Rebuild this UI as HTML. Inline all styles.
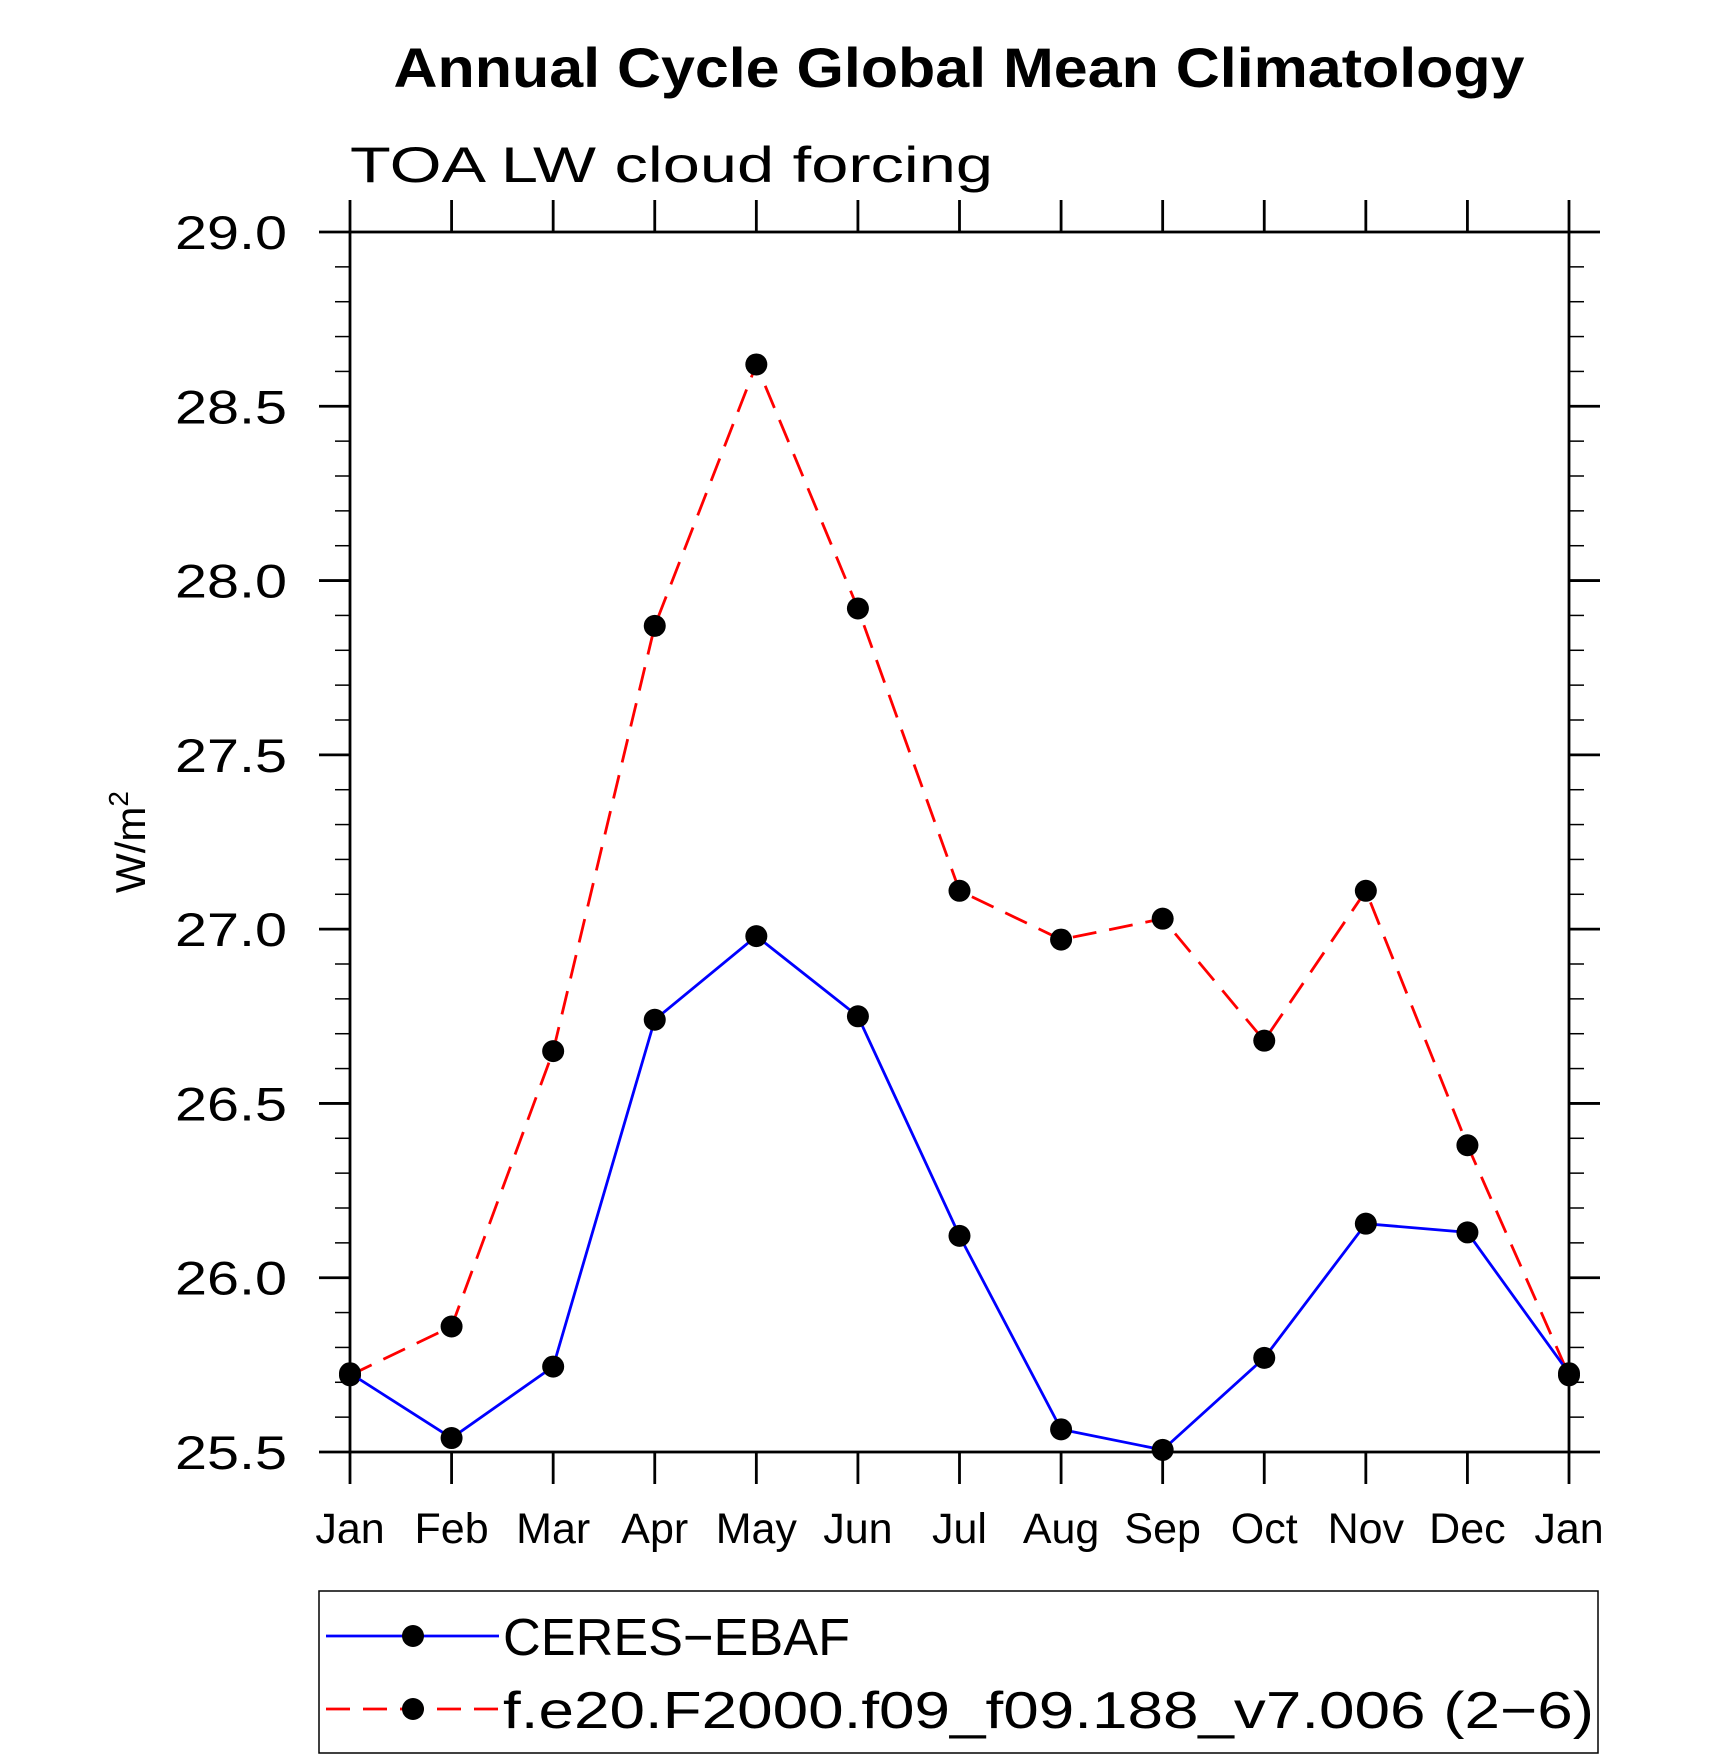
<!DOCTYPE html>
<html><head><meta charset="utf-8"><style>
html,body{margin:0;padding:0;background:#fff;}
svg{display:block;font-family:"Liberation Sans",sans-serif;}
</style></head><body>
<svg id="chart" width="1710" height="1762" viewBox="0 0 1710 1762">
<text x="959" y="87" text-anchor="middle" font-size="56" font-weight="bold" textLength="1131" lengthAdjust="spacingAndGlyphs">Annual Cycle Global Mean Climatology</text>
<text x="350" y="182" font-size="50" textLength="643" lengthAdjust="spacingAndGlyphs">TOA LW cloud forcing</text>
<text transform="translate(145,842) rotate(-90)" text-anchor="middle" font-size="42">W/m<tspan dy="-17" font-size="28">2</tspan></text>
<g id="axes"></g>
<g id="series"></g>
<g>
<rect x="319" y="1591" width="1279" height="162" fill="none" stroke="#000" stroke-width="1.5"/>
<g>
<line x1="326" y1="1636" x2="499" y2="1636" stroke="#0000ff" stroke-width="2.8"/>
<circle cx="413" cy="1636" r="11" fill="#000"/>
<text x="503" y="1655" font-size="52" textLength="347" lengthAdjust="spacingAndGlyphs">CERES−EBAF</text>
</g>
<g>
<line x1="326" y1="1709" x2="499" y2="1709" stroke="#ff0000" stroke-width="2.8" stroke-dasharray="24,13"/>
<circle cx="413" cy="1709" r="11" fill="#000"/>
<text x="503" y="1728" font-size="52" textLength="1091" lengthAdjust="spacingAndGlyphs">f.e20.F2000.f09_f09.188_v7.006 (2−6)</text>
</g>
</g>
</svg>
<script>
const months = ["Jan","Feb","Mar","Apr","May","Jun","Jul","Aug","Sep","Oct","Nov","Dec","Jan"];
const ceres = [25.726,25.54,25.745,26.74,26.98,26.75,26.12,25.565,25.506,25.77,26.155,26.13,25.726];
const model = [25.72,25.86,26.65,27.87,28.62,27.92,27.11,26.97,27.03,26.68,27.11,26.38,25.72];
const yTicks = ["25.5","26.0","26.5","27.0","27.5","28.0","28.5","29.0"];

const NS="http://www.w3.org/2000/svg";
const L=350,R=1569,T=232,B=1452,YMIN=25.5,YMAX=29.0;
function xs(i){return L+(R-L)*i/(months.length-1);}
function ys(v){return B-(v-YMIN)/(YMAX-YMIN)*(B-T);}
function mk(tag,attrs,parent){const e=document.createElementNS(NS,tag);for(const k in attrs)e.setAttribute(k,attrs[k]);parent.appendChild(e);return e;}
const axes=document.getElementById('axes');
const frame=mk('rect',{x:L,y:T,width:R-L,height:B-T,fill:'none',stroke:'#000','stroke-width':2.8},axes);


for(let v=YMIN*10; v<=YMAX*10+0.01; v+=1){
  const val=v/10, y=ys(val), major=(Math.round(v)%5===0);
  const len=major?31:15;
  mk('line',{x1:L-len,y1:y,x2:L,y2:y,stroke:'#000','stroke-width':major?2.8:1.5},axes);
  mk('line',{x1:R,y1:y,x2:R+len,y2:y,stroke:'#000','stroke-width':major?2.8:1.5},axes);
}
yTicks.forEach(t=>{
  const e=mk('text',{x:287,y:ys(parseFloat(t))+17,'text-anchor':'end','font-size':47,textLength:112,lengthAdjust:'spacingAndGlyphs'},axes);
  e.textContent=t;
  
  
});
months.forEach((m,i)=>{
  const x=xs(i);
  mk('line',{x1:x,y1:B,x2:x,y2:B+32,stroke:'#000','stroke-width':2.8},axes);
  mk('line',{x1:x,y1:T-32,x2:x,y2:T,stroke:'#000','stroke-width':2.8},axes);
  const e=mk('text',{x:x,y:1543,'text-anchor':'middle','font-size':43},axes);
  e.textContent=m;
  
  
});
const series=document.getElementById('series');
function drawSeries(vals,color,dash,name){
  const g=mk('g',{},series);
  
  
  const pts=vals.map((v,i)=>xs(i)+','+ys(v)).join(' ');
  const attrs={points:pts,fill:'none',stroke:color,'stroke-width':2.8};
  if(dash)attrs['stroke-dasharray']=dash;
  mk('polyline',attrs,g);
  vals.forEach((v,i)=>{
    const c=mk('circle',{cx:xs(i),cy:ys(v),r:11,fill:'#000'},g);
    
    
  });
}
drawSeries(model,'#ff0000','24,13','model-series');
drawSeries(ceres,'#0000ff',null,'ceres-series');
</script>
</body></html>
